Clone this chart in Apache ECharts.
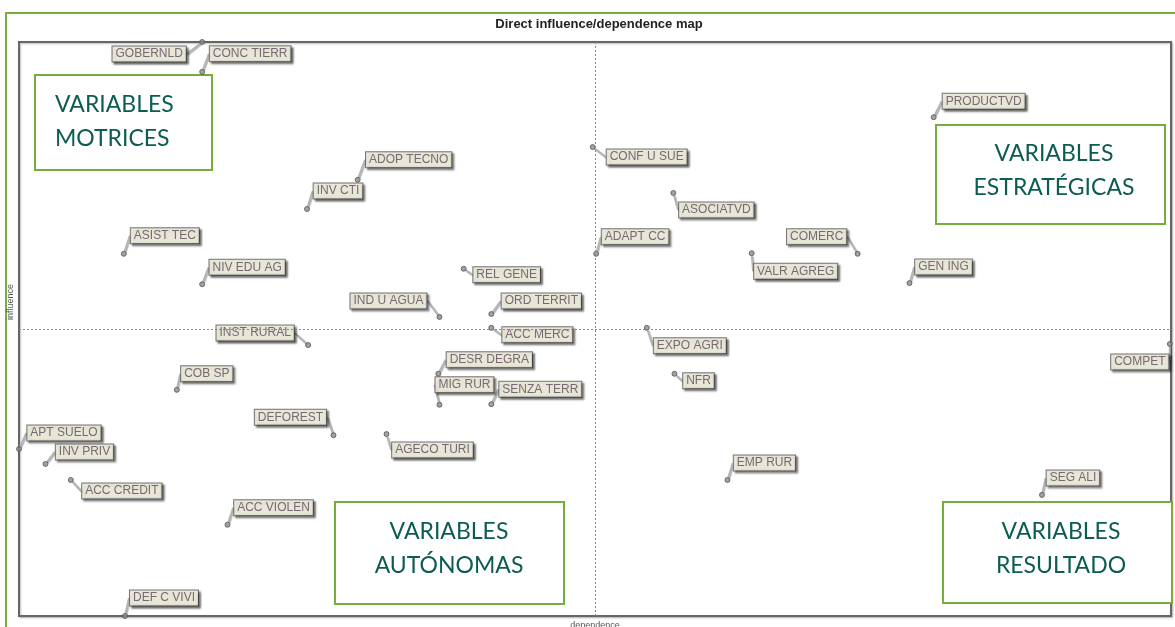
<!DOCTYPE html>
<html>
<head>
<meta charset="utf-8">
<script src="https://cdn.jsdelivr.net/npm/echarts@6/dist/echarts.min.js"></script>
<style>
  html, body { margin: 0; padding: 0; background: #fff; }
  #chart { width: 1175px; height: 627px; }
</style>
</head>
<body>
<div id="chart"></div>
<script>
// Mapa de influencia/dependencia directa (MICMAC).
const variables = [
  'GOBERNLD', 'CONC TIERR', 'PRODUCTVD', 'ADOP TECNO', 'INV CTI', 'CONF U SUE',
  'ASOCIATVD', 'ASIST TEC', 'NIV EDU AG', 'ADAPT CC', 'COMERC', 'VALR AGREG',
  'GEN ING', 'REL GENE', 'ORD TERRIT', 'IND U AGUA', 'INST RURAL', 'ACC MERC',
  'EXPO AGRI', 'COMPET', 'DESR DEGRA', 'MIG RUR', 'SENZA TERR', 'NFR',
  'COB SP', 'DEFOREST', 'AGECO TURI', 'APT SUELO', 'INV PRIV', 'ACC CREDIT',
  'ACC VIOLEN', 'EMP RUR', 'SEG ALI', 'DEF C VIVI'
];
const dependence = [
  15.9, 15.9, 79.4, 29.4, 25.0, 49.8,
  56.8, 9.1, 15.9, 50.1, 72.8, 63.6,
  77.3, 38.6, 41.0, 36.5, 25.1, 41.0,
  54.5, 99.9, 36.4, 36.5, 41.0, 56.9,
  13.7, 27.3, 31.9, 0.0, 2.3, 4.5,
  18.1, 61.5, 88.8, 9.2
];
const influence = [
  100.0, 94.8, 86.9, 76.0, 70.9, 81.7,
  73.7, 63.1, 57.8, 63.1, 63.1, 63.2,
  58.0, 60.5, 52.6, 52.1, 47.2, 50.2,
  50.2, 47.4, 42.2, 36.8, 36.9, 42.2,
  39.4, 31.5, 31.7, 29.1, 26.5, 23.7,
  15.9, 23.7, 21.1, 0.0
];
const meanDependence = 50;
const meanInfluence = 50;

// desplazamiento de cada etiqueta respecto de su punto (px)
const labelShift = [
  [-53, 12], [48, -18], [50, -16], [51, -20], [31, -18], [54, 10],
  [43, 17], [41, -18], [45, -17], [39, -17], [-41, -17], [44, 18],
  [34, -16], [43, 6], [50, -13], [-51, -16], [-53, -12], [46, 7],
  [43, 18], [-30, 18], [51, -14], [25, -20], [49, -15], [24, 7],
  [30, -16], [-43, -18], [46, 16], [45, -16], [39, -12], [51, 11],
  [46, -17], [37, -17], [31, -17], [39, -18]
];

const GREEN = '#76ad3b';
const TEAL = '#0d5c52';

const points = variables.map((name, i) => ({ name, value: [dependence[i], influence[i]] }));

function quadBox(x, y, w, h, text, tx, ty, align) {
  return {
    type: 'group',
    children: [
      {
        type: 'rect',
        shape: { x, y, width: w, height: h },
        style: { fill: '#fff', stroke: GREEN, lineWidth: 2 }
      },
      {
        type: 'text',
        x: tx, y: ty,
        style: {
          text,
          fill: TEAL,
          font: '23px Lato, "Noto Sans", sans-serif',
          lineHeight: 34,
          align,
          verticalAlign: 'middle'
        }
      }
    ]
  };
}

const chart = echarts.init(document.getElementById('chart'));

const option = {
  backgroundColor: '#fff',
  animation: false,
  title: {
    text: 'Direct influence/dependence map',
    left: 594, top: 13,
    textAlign: 'center',
    textStyle: { fontSize: 13, fontWeight: 'bold', color: '#222', fontFamily: 'Arial, "Liberation Sans", sans-serif' }
  },
  grid: {
    left: 19, right: 4, top: 42, bottom: 11,
    outerBoundsMode: 'none',
    containLabel: false,
    show: true,
    borderColor: '#666', borderWidth: 2,
    backgroundColor: '#fff',
    shadowColor: 'rgba(0,0,0,0.25)', shadowBlur: 2, shadowOffsetX: 1, shadowOffsetY: 1
  },
  xAxis: {
    type: 'value', min: 0, max: 100,
    name: 'dependence', nameLocation: 'middle', nameGap: 5,
    nameTextStyle: { fontSize: 9, color: '#555', fontFamily: 'Arial, sans-serif' },
    axisLine: { show: false }, axisTick: { show: false }, axisLabel: { show: false },
    splitLine: { show: false }
  },
  yAxis: {
    type: 'value', min: 0, max: 100,
    name: 'influence', nameLocation: 'middle', nameGap: 4,
    nameTextStyle: { fontSize: 9, color: '#555', fontFamily: 'Arial, sans-serif', padding: [0, 0, 0, 54] },
    axisLine: { show: false }, axisTick: { show: false }, axisLabel: { show: false },
    splitLine: { show: false }
  },
  series: [{
    type: 'scatter',
    data: points,
    symbol: 'circle',
    symbolSize: 5,
    itemStyle: { color: '#8a8a8a', borderColor: '#555', borderWidth: 1 },
    label: {
      show: true,
      position: 'inside',
      formatter: p => p.name,
      fontSize: 12,
      fontFamily: 'Arial, "Liberation Sans", sans-serif',
      color: '#5a4a58',
      backgroundColor: '#fdfbe8',
      borderColor: '#555',
      borderWidth: 1,
      padding: [2, 3, 1, 3],
      shadowColor: 'rgba(0,0,0,0.55)',
      shadowBlur: 2,
      shadowOffsetX: 2,
      shadowOffsetY: 2
    },
    labelLine: {
      show: true,
      lineStyle: { color: '#b5b5b5', width: 2, shadowColor: 'rgba(0,0,0,0.3)', shadowOffsetX: 1, shadowOffsetY: 1, shadowBlur: 1 }
    },
    labelLayout: p => ({ dx: labelShift[p.dataIndex][0], dy: labelShift[p.dataIndex][1], hideOverlap: false }),
    markLine: {
      silent: true,
      symbol: 'none',
      label: { show: false },
      lineStyle: { color: '#888', type: [2, 2], width: 1 },
      data: [{ xAxis: meanDependence }, { yAxis: meanInfluence }]
    }
  }],
  graphic: [
    {
      type: 'polyline',
      shape: { points: [[6, 627], [6, 13], [1175, 13]] },
      style: { stroke: GREEN, lineWidth: 2, fill: null }
    },
    quadBox(35, 75, 177, 95, 'VARIABLES\nMOTRICES', 55, 122, 'left'),
    quadBox(936, 125, 229, 99, 'VARIABLES\nESTRATÉGICAS', 1054, 171, 'center'),
    quadBox(335, 502, 229, 102, 'VARIABLES\nAUTÓNOMAS', 449, 549, 'center'),
    quadBox(943, 502, 229, 101, 'VARIABLES\nRESULTADO', 1061, 549, 'center')
  ]
};

chart.setOption(option);
</script>
</body>
</html>
